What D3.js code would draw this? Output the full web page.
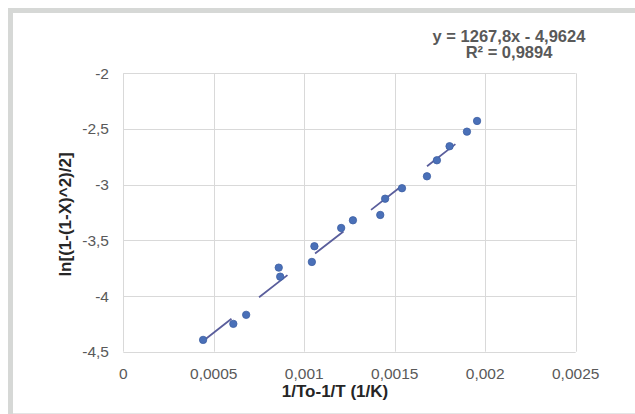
<!DOCTYPE html>
<html lang="en">
<head>
  <meta charset="UTF-8">
  <title>ln[(1-(1-X)^2)/2] vs 1/To-1/T</title>
  <script src="https://d3js.org/d3.v7.min.js"></script>
  <style>
    body { margin: 0; background: #fff; }
    svg { display: block; font-family: "Liberation Sans", Arial, sans-serif; }
  </style>
</head>
<body>
  <svg width="635" height="414"></svg>

  <script>
    // Data
    const xValues = [0.000441, 0.000608, 0.000679, 0.000859, 0.000867, 0.001042, 0.001056,
                     0.001204, 0.001269, 0.00142, 0.001447, 0.00154, 0.001678, 0.001733,
                     0.001803, 0.001899, 0.001955];
    const yValues = [-4.394, -4.25, -4.169, -3.745, -3.826, -3.694, -3.553,
                     -3.389, -3.32, -3.272, -3.126, -3.032, -2.925, -2.781,
                     -2.655, -2.524, -2.428];

    const xTicks = [0, 0.0005, 0.001, 0.0015, 0.002, 0.0025];
    const xTickLabels = ["0", "0,0005", "0,001", "0,0015", "0,002", "0,0025"];
    const yTicks = [-2, -2.5, -3, -3.5, -4, -4.5];
    const yTickLabels = ["-2", "-2,5", "-3", "-3,5", "-4", "-4,5"];

    // Linear trendline shown on the chart
    const slope = 1267.8, intercept = -4.9624;
    const equationLines = ["y = 1267,8x - 4,9624", "R² = 0,9894"];

    const svg = d3.select("svg");
    const margin = { top: 73.3, left: 123.3, right: 635 - 575.7, bottom: 414 - 351.7 };
    const width = 635, height = 414;

    const x = d3.scaleLinear().domain([0, 0.0025]).range([margin.left, width - margin.right]);
    const y = d3.scaleLinear().domain([-4.5, -2]).range([height - margin.bottom, margin.top]);

    // Outer chart frame (left and top bands, faint bottom edge)
    svg.append("rect").attr("x", 8).attr("y", 8).attr("width", 5).attr("height", 406).attr("fill", "#d6d8d6");
    svg.append("rect").attr("x", 8).attr("y", 8).attr("width", 627).attr("height", 5).attr("fill", "#d6d8d6");
    svg.append("line").attr("x1", 13).attr("x2", 635).attr("y1", 413.5).attr("y2", 413.5)
       .attr("stroke", "#e4e4e4").attr("stroke-width", 1);

    // Gridlines
    svg.append("g")
       .selectAll("line")
       .data(xTicks)
       .enter().append("line")
       .attr("x1", d => Math.round(x(d)) + 0.5).attr("x2", d => Math.round(x(d)) + 0.5)
       .attr("y1", y(-2)).attr("y2", y(-4.5))
       .attr("stroke", "#d9d9d9").attr("stroke-width", 1);

    svg.append("g")
       .selectAll("line")
       .data(yTicks)
       .enter().append("line")
       .attr("x1", x(0)).attr("x2", x(0.0025))
       .attr("y1", d => Math.round(y(d)) + 0.5).attr("y2", d => Math.round(y(d)) + 0.5)
       .attr("stroke", "#d9d9d9").attr("stroke-width", 1);

    // Tick labels
    svg.append("g")
       .selectAll("text")
       .data(xTicks)
       .enter().append("text")
       .attr("x", d => x(d))
       .attr("y", 379)
       .attr("text-anchor", "middle")
       .attr("fill", "#595959")
       .style("font-size", "15.5px")
       .text((d, i) => xTickLabels[i]);

    svg.append("g")
       .selectAll("text")
       .data(yTicks)
       .enter().append("text")
       .attr("x", 109)
       .attr("y", d => y(d) + 5.5)
       .attr("text-anchor", "end")
       .attr("fill", "#595959")
       .style("font-size", "15.5px")
       .text((d, i) => yTickLabels[i]);

    // Axis titles
    svg.append("text")
       .attr("x", 335)
       .attr("y", 396.5)
       .attr("text-anchor", "middle")
       .attr("fill", "#262626")
       .style("font-size", "17px")
       .style("font-weight", "bold")
       .text("1/To-1/T (1/K)");

    svg.append("text")
       .attr("transform", "translate(71,214.5) rotate(-90)")
       .attr("text-anchor", "middle")
       .attr("fill", "#262626")
       .style("font-size", "17px")
       .style("font-weight", "bold")
       .text("ln[(1-(1-X)^2)/2]");

    // Dashed linear trendline from min x to max x
    const xMin = d3.min(xValues), xMax = d3.max(xValues);
    svg.append("line")
       .attr("x1", x(xMin)).attr("y1", y(slope * xMin + intercept))
       .attr("x2", x(xMax)).attr("y2", y(slope * xMax + intercept))
       .attr("stroke", "#5a5e9c")
       .attr("stroke-width", 1.8)
       .attr("stroke-dasharray", "36 35");

    // Points
    svg.append("g")
       .selectAll("circle")
       .data(xValues.map((v, i) => ({ x: v, y: yValues[i] })))
       .enter().append("circle")
       .attr("cx", d => x(d.x))
       .attr("cy", d => y(d.y))
       .attr("r", 3.7)
       .attr("fill", "#4a70b8")
       .attr("stroke", "#3d5fa3")
       .attr("stroke-width", 0.8);

    // Trendline equation
    svg.append("g")
       .selectAll("text")
       .data(equationLines)
       .enter().append("text")
       .attr("x", 509)
       .attr("y", (d, i) => 41.7 + i * 16.6)
       .attr("text-anchor", "middle")
       .attr("fill", "#595959")
       .style("font-size", "16.5px")
       .style("font-weight", "bold")
       .text(d => d);
  </script>
</body>
</html>
